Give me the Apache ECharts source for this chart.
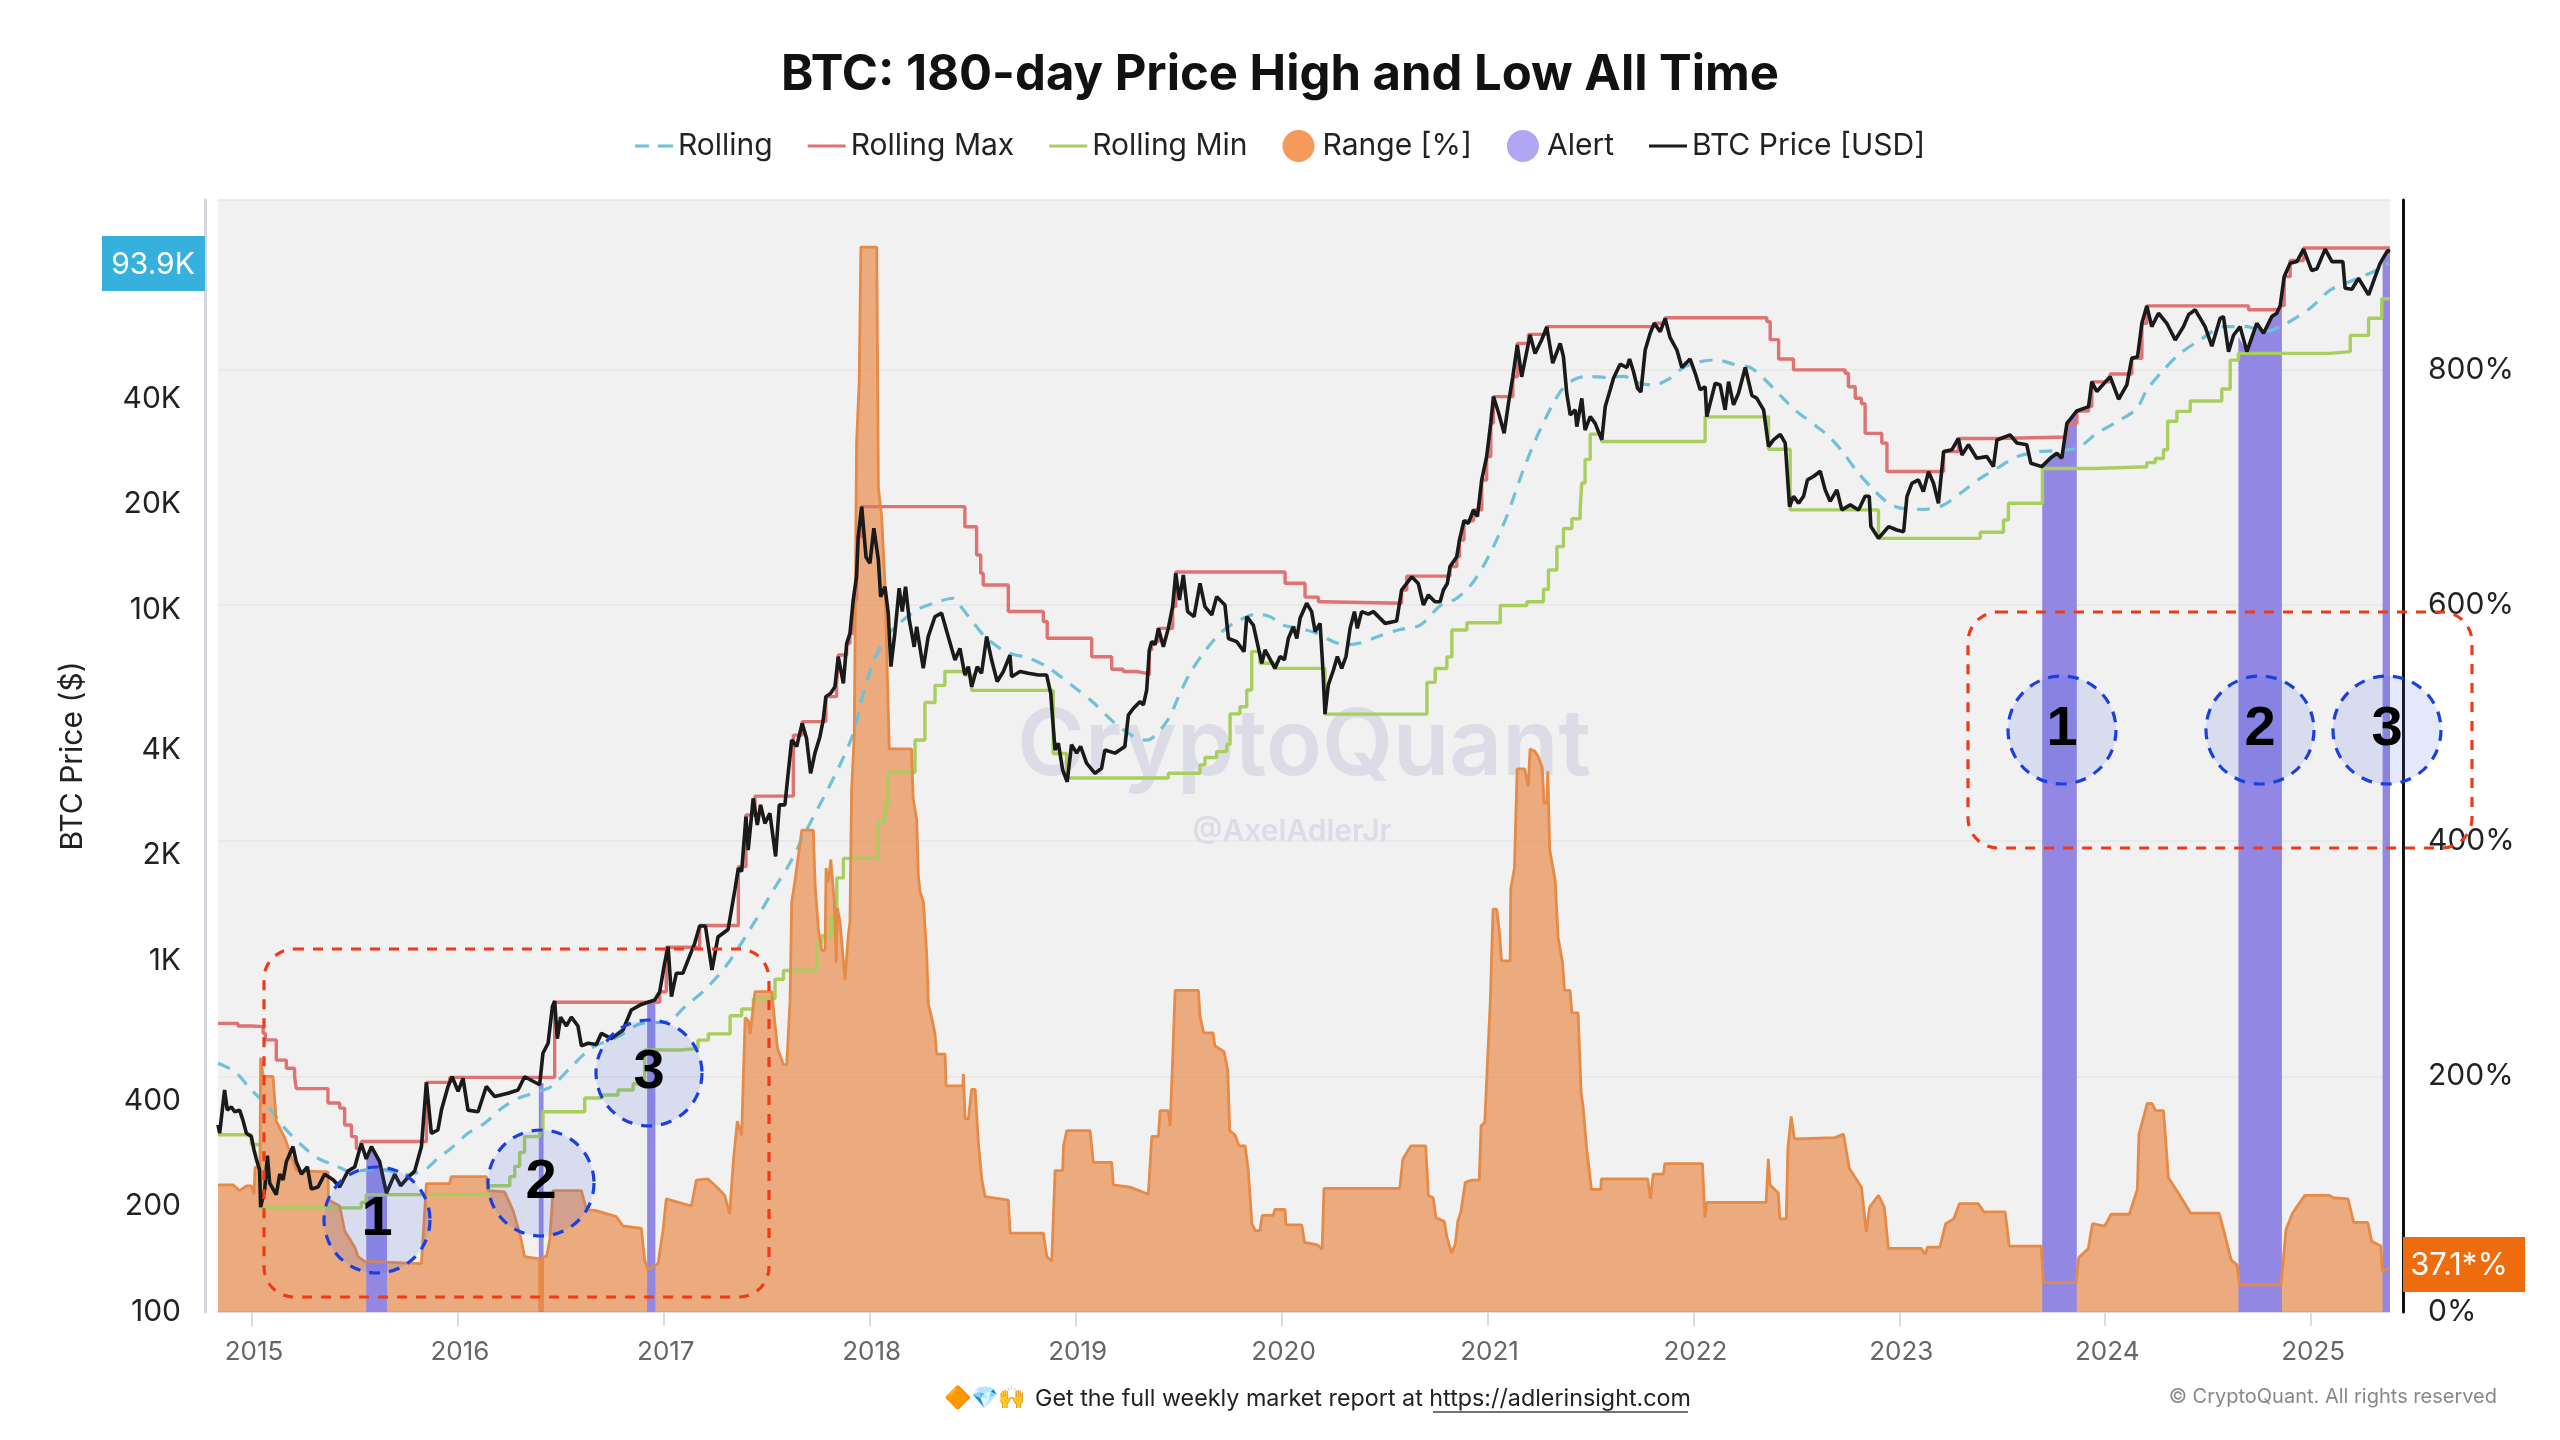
<!DOCTYPE html>
<html>
<head>
<meta charset="UTF-8">
<title>BTC: 180-day Price High and Low All Time</title>
<script src="https://cdn.jsdelivr.net/npm/echarts@6/dist/echarts.min.js"></script>
<style>
html, body { margin: 0; padding: 0; background: #fff; }
#container { width: 2560px; height: 1440px; }
</style>
</head>
<body>
<div id="container"></div>
<script>
// all series are [decimal year, value]
var price = [
[2014.835,341],[2014.843,323],[2014.867,429],[2014.880,376],[2014.900,384],[2014.916,372],[2014.940,376],[2014.956,352],[2014.973,323],[2014.997,316],
[2015.010,289],[2015.021,273],[2015.037,254],[2015.042,199],[2015.062,224],[2015.075,279],[2015.086,233],[2015.118,216],[2015.135,247],[2015.151,238],
[2015.167,268],[2015.199,296],[2015.215,268],[2015.240,247],[2015.269,259],[2015.288,224],[2015.321,227],[2015.353,247],[2015.394,238],[2015.426,227],
[2015.466,252],[2015.499,259],[2015.531,302],[2015.555,273],[2015.580,296],[2015.620,268],[2015.653,218],[2015.693,247],[2015.722,229],[2015.758,242],
[2015.790,252],[2015.823,296],[2015.847,451],[2015.871,323],[2015.903,330],[2015.920,376],[2015.952,439],[2015.972,468],[2016.001,425],[2016.025,463],
[2016.049,376],[2016.098,372],[2016.138,439],[2016.179,411],[2016.243,420],[2016.292,429],[2016.324,468],[2016.397,444],[2016.413,546],[2016.438,583],
[2016.459,741],[2016.470,769],[2016.483,601],[2016.499,692],[2016.527,653],[2016.551,692],[2016.583,653],[2016.600,573],[2016.632,583],[2016.672,578],
[2016.697,622],[2016.745,601],[2016.802,636],[2016.842,725],[2016.891,752],[2016.956,774],[2016.980,817],[2017.004,986],[2017.021,1098],[2017.037,792],
[2017.061,923],[2017.093,923],[2017.118,1007],[2017.150,1123],[2017.174,1258],[2017.202,1258],[2017.234,943],[2017.263,1170],[2017.312,1229],[2017.345,1593],
[2017.362,1837],[2017.378,1800],[2017.399,2577],[2017.410,2071],[2017.434,2907],[2017.454,2440],[2017.470,2784],[2017.491,2466],[2017.515,2634],[2017.543,1985],
[2017.561,2784],[2017.588,2784],[2017.604,3425],[2017.621,4263],[2017.645,4085],[2017.672,4753],[2017.693,4310],[2017.713,3425],[2017.734,3910],[2017.758,4356],
[2017.774,4853],[2017.787,5665],[2017.810,5787],[2017.831,6045],[2017.847,7360],[2017.872,6180],[2017.888,8020],[2017.904,8580],[2017.920,10680],[2017.936,12450],
[2017.944,16170],[2017.961,19700],[2017.982,14160],[2018.001,13580],[2018.020,17090],[2018.042,13880],[2018.053,10900],[2018.074,11650],[2018.090,9790],[2018.103,6895],
[2018.122,8580],[2018.143,11530],[2018.158,9900],[2018.174,11650],[2018.192,9370],[2018.216,7850],[2018.228,8960],[2018.260,6820],[2018.284,8400],[2018.317,9580],
[2018.349,9790],[2018.381,8400],[2018.414,7200],[2018.438,7770],[2018.462,6530],[2018.479,6895],[2018.495,6045],[2018.522,6895],[2018.543,6600],[2018.568,8400],
[2018.592,7200],[2018.619,6255],[2018.649,6680],[2018.681,7440],[2018.689,6455],[2018.730,6680],[2018.770,6600],[2018.819,6530],[2018.859,6530],[2018.879,5787],
[2018.900,3990],[2018.916,4170],[2018.937,3500],[2018.959,3240],[2018.980,4130],[2019.005,3910],[2019.024,4085],[2019.053,3660],[2019.094,3425],[2019.126,3540],
[2019.142,3990],[2019.191,3910],[2019.239,4085],[2019.256,5015],[2019.280,5240],[2019.312,5480],[2019.329,5363],[2019.345,5915],[2019.358,7695],[2019.369,8125],
[2019.386,7960],[2019.402,8865],[2019.426,7860],[2019.450,8865],[2019.471,10220],[2019.486,12720],[2019.504,10680],[2019.523,12585],[2019.544,9894],[2019.575,9575],
[2019.604,11915],[2019.628,10220],[2019.661,9680],[2019.685,10915],[2019.725,10330],[2019.742,8295],[2019.782,8125],[2019.818,7610],[2019.831,9575],[2019.863,9050],
[2019.904,7050],[2019.920,7695],[2019.968,6820],[2019.993,7370],[2020.014,7210],[2020.033,8295],[2020.057,8960],[2020.074,8295],[2020.090,9470],[2020.122,10450],
[2020.146,9894],[2020.163,8675],[2020.187,9160],[2020.200,6895],[2020.211,5050],[2020.227,6120],[2020.252,6745],[2020.271,7370],[2020.292,6820],[2020.313,7370],
[2020.333,8865],[2020.354,9894],[2020.368,8865],[2020.389,9894],[2020.422,9730],[2020.446,9894],[2020.503,9160],[2020.559,9300],[2020.583,11400],[2020.632,12430],
[2020.664,11900],[2020.689,10330],[2020.713,11040],[2020.745,10560],[2020.770,10560],[2020.786,11400],[2020.805,11900],[2020.818,13290],[2020.851,14190],[2020.864,15820],
[2020.886,17960],[2020.907,17650],[2020.932,19280],[2020.951,18450],[2020.972,23465],[2020.996,27345],[2021.016,34090],[2021.029,40530],[2021.053,36580],[2021.081,31870],
[2021.102,38800],[2021.123,46160],[2021.145,56880],[2021.166,46160],[2021.207,60750],[2021.231,53800],[2021.263,58770],[2021.288,64000],[2021.317,50470],[2021.353,57500],
[2021.369,52700],[2021.385,41430],[2021.402,35930],[2021.426,37170],[2021.434,33290],[2021.458,40090],[2021.474,32570],[2021.499,35540],[2021.523,34000],[2021.555,30530],
[2021.572,37980],[2021.596,42400],[2021.612,45720],[2021.644,50150],[2021.677,49060],[2021.690,51860],[2021.709,47800],[2021.729,42800],[2021.745,41800],[2021.766,55040],
[2021.790,61400],[2021.810,65580],[2021.839,62100],[2021.863,67700],[2021.887,59650],[2021.920,55040],[2021.944,49060],[2021.984,51860],[2022.009,47240],[2022.033,42400],
[2022.057,43250],[2022.065,35540],[2022.106,44240],[2022.130,43740],[2022.154,37170],[2022.171,44720],[2022.195,38400],[2022.219,41430],[2022.252,49060],[2022.284,40860],
[2022.308,40090],[2022.341,37170],[2022.365,29200],[2022.389,30530],[2022.422,31650],[2022.446,29880],[2022.467,19700],[2022.486,21080],[2022.511,20150],[2022.535,21080],
[2022.554,23470],[2022.583,24000],[2022.616,24850],[2022.640,21990],[2022.664,20400],[2022.697,21990],[2022.721,19280],[2022.762,19930],[2022.802,19280],[2022.834,21080],
[2022.854,21080],[2022.862,17280],[2022.899,16010],[2022.948,17280],[2022.988,16900],[2023.021,16720],[2023.037,21040],[2023.061,22960],[2023.093,23470],[2023.117,21730],
[2023.142,24790],[2023.166,22960],[2023.190,20130],[2023.215,28260],[2023.255,28590],[2023.287,30800],[2023.304,27650],[2023.336,29560],[2023.376,27050],[2023.425,27350],
[2023.457,25610],[2023.474,30500],[2023.538,31540],[2023.571,29900],[2023.619,29560],[2023.639,26180],[2023.692,25610],[2023.733,27050],[2023.765,27950],[2023.789,27050],
[2023.814,34030],[2023.862,36890],[2023.919,37960],[2023.935,44670],[2023.959,41930],[2024.024,46220],[2024.065,39850],[2024.105,43770],[2024.129,52130],[2024.157,52680],
[2024.178,65580],[2024.202,73500],[2024.226,64170],[2024.259,70040],[2024.299,65580],[2024.340,58800],[2024.380,64170],[2024.405,69400],[2024.437,71650],[2024.485,64170],
[2024.518,56430],[2024.558,67780],[2024.574,68520],[2024.599,54450],[2024.623,60640],[2024.655,64170],[2024.688,54450],[2024.736,65580],[2024.769,61420],[2024.809,68520],
[2024.833,70040],[2024.850,73700],[2024.869,89060],[2024.898,97190],[2024.931,98310],[2024.963,106700],[2025.003,92700],[2025.028,93800],[2025.068,106700],[2025.101,98310],
[2025.154,98310],[2025.165,82500],[2025.198,82000],[2025.230,88120],[2025.279,79000],[2025.311,89060],[2025.335,97190],[2025.371,105700],[2025.383,105000]
];

var rolling = [
[2014.835,511],[2014.916,484],[2014.997,429],[2015.078,385],[2015.159,334],[2015.240,299],[2015.321,274],[2015.402,262],[2015.483,251],[2015.564,254],
[2015.644,254],[2015.742,246],[2015.839,254],[2015.903,274],[2015.968,293],[2016.049,323],[2016.130,345],[2016.211,380],[2016.292,406],[2016.389,424],
[2016.454,439],[2016.551,500],[2016.648,564],[2016.778,609],[2016.891,664],[2017.021,672],[2017.102,741],[2017.199,827],[2017.312,985],[2017.451,1323],
[2017.532,1593],[2017.612,1898],[2017.693,2361],[2017.774,2907],[2017.855,3617],[2017.920,4453],[2017.969,5787],[2018.017,7100],[2018.082,8400],[2018.147,9200],
[2018.228,10000],[2018.309,10450],[2018.406,10800],[2018.438,10300],[2018.503,9200],[2018.568,8300],[2018.665,7590],[2018.778,7270],[2018.859,6900],[2018.989,6050],
[2019.086,5450],[2019.183,4800],[2019.296,4310],[2019.345,4260],[2019.442,4808],[2019.507,5790],[2019.555,6600],[2019.620,7525],[2019.701,8580],[2019.782,9263],
[2019.879,9740],[2019.944,9575],[2020.009,9050],[2020.090,8865],[2020.171,8580],[2020.252,8125],[2020.316,7960],[2020.381,8050],[2020.478,8450],[2020.575,8800],
[2020.673,9050],[2020.770,10280],[2020.851,10800],[2020.932,12040],[2021.013,14500],[2021.093,18440],[2021.174,25060],[2021.255,32570],[2021.353,41800],[2021.418,45220],
[2021.483,46300],[2021.580,46000],[2021.661,46300],[2021.742,44240],[2021.806,43740],[2021.887,45720],[2021.952,49060],[2022.033,51000],[2022.114,51600],[2022.195,50150],
[2022.276,49060],[2022.341,45720],[2022.422,40860],[2022.503,36740],[2022.600,33290],[2022.664,31000],[2022.729,28000],[2022.794,24850],[2022.875,22000],[2022.956,20000],
[2023.037,19400],[2023.117,19360],[2023.215,19910],[2023.296,21500],[2023.393,23720],[2023.474,25320],[2023.571,27340],[2023.684,28260],[2023.862,28890],[2023.959,31870],
[2024.073,34780],[2024.154,37530],[2024.202,42350],[2024.283,48280],[2024.364,53850],[2024.461,58780],[2024.574,64150],[2024.688,64150],[2024.769,62080],[2024.866,64900],
[2024.995,72350],[2025.093,81600],[2025.206,87150],[2025.303,92000],[2025.376,97190]
];

// step lines: the year each new level starts
var rollingMax = [
[2014.835,664],[2014.932,653],[2014.997,650],[2015.054,622],[2015.065,596],[2015.118,522],[2015.167,495],[2015.207,468],[2015.215,433],[2015.369,394],
[2015.426,381],[2015.450,341],[2015.483,316],[2015.507,292],[2015.531,306],[2015.847,451],[2015.960,466],[2016.470,763],[2016.980,817],[2017.012,1094],
[2017.174,1262],[2017.362,1857],[2017.399,2606],[2017.443,2950],[2017.629,4400],[2017.672,4807],[2017.787,5665],[2017.839,6120],[2017.847,7440],[2017.888,8020],
[2017.904,8580],[2017.920,10680],[2017.936,12450],[2017.944,16170],[2017.961,19700],[2018.462,17270],[2018.519,14347],[2018.539,12720],[2018.551,11780],[2018.673,9900],
[2018.843,9270],[2018.862,8305],[2019.078,7360],[2019.175,6780],[2019.231,6680],[2019.296,6600],[2019.345,6530],[2019.358,7695],[2019.369,8125],[2019.402,8865],
[2019.471,10220],[2019.486,12830],[2020.017,11915],[2020.114,10880],[2020.179,10560],[2020.195,10450],[2020.583,11400],[2020.608,12490],[2020.818,13290],[2020.851,14190],
[2020.864,15820],[2020.886,17960],[2020.932,19280],[2020.972,23465],[2020.996,27345],[2021.016,34090],[2021.029,40530],[2021.123,46160],[2021.145,57500],[2021.199,61000],
[2021.288,64150],[2021.810,65580],[2021.863,68000],[2022.357,66300],[2022.373,58900],[2022.414,51860],[2022.486,48300],[2022.737,47240],[2022.753,43250],[2022.786,40090],
[2022.816,38700],[2022.834,31860],[2022.915,29880],[2022.940,24800],[2023.215,28260],[2023.287,30800],[2023.474,31100],[2023.814,34030],[2023.862,36890],[2023.919,37960],
[2023.935,44670],[2024.024,47000],[2024.129,52130],[2024.178,65580],[2024.202,73500],[2024.696,71650],[2024.850,73700],[2024.869,89060],[2024.898,99000],[2024.963,107500],
[2025.383,107500]
];

var rollingMin = [
[2014.835,320],[2014.997,300],[2015.042,198],[2015.531,205],[2015.555,216],[2016.146,229],[2016.252,243],[2016.276,260],[2016.300,285],[2016.324,316],
[2016.397,330],[2016.413,372],[2016.616,407],[2016.697,415],[2016.778,429],[2016.851,447],[2016.907,558],[2017.085,563],[2017.166,595],[2017.216,620],
[2017.322,698],[2017.378,730],[2017.435,780],[2017.540,887],[2017.581,940],[2017.743,1123],[2017.767,1180],[2017.815,1340],[2017.840,1725],[2017.872,1960],
[2018.042,2500],[2018.074,2800],[2018.090,3450],[2018.220,4260],[2018.268,5450],[2018.317,6100],[2018.365,6680],[2018.462,6530],[2018.495,5900],[2018.891,3900],
[2018.956,3320],[2019.450,3425],[2019.604,3620],[2019.628,3800],[2019.685,3950],[2019.734,4140],[2019.750,5060],[2019.798,5300],[2019.831,5915],[2019.855,7610],
[2019.895,7050],[2019.968,6820],[2020.211,5050],[2020.706,6220],[2020.746,6810],[2020.803,7350],[2020.827,8770],[2020.900,9200],[2021.062,10300],[2021.191,10550],
[2021.272,11460],[2021.296,13000],[2021.337,15150],[2021.369,17060],[2021.410,18200],[2021.450,19280],[2021.458,23000],[2021.474,26850],[2021.499,31700],[2021.555,30200],
[2022.057,35500],[2022.365,28700],[2022.470,19280],[2022.899,16000],[2023.393,16660],[2023.506,18050],[2023.530,20140],[2023.695,25300],[2023.943,25600],[2024.202,26300],
[2024.243,27000],[2024.283,28600],[2024.303,34500],[2024.348,36800],[2024.413,39400],[2024.566,42600],[2024.607,51500],[2024.647,53850],[2025.093,54450],[2025.190,60600],
[2025.279,67800],[2025.343,77000],[2025.383,77000]
];

var range = [
[2014.835,108],[2014.908,108],[2014.940,103],[2014.973,107],[2014.997,107],[2015.010,100],[2015.015,123],[2015.039,122],[2015.042,216],[2015.054,200],
[2015.102,200],[2015.118,162],[2015.159,148],[2015.215,120],[2015.369,119],[2015.372,95],[2015.426,90],[2015.450,69],[2015.499,55],[2015.515,47],
[2015.547,43],[2015.823,41],[2015.847,109],[2015.960,109],[2015.968,115],[2016.138,115],[2016.146,103],[2016.227,102],[2016.268,86],[2016.300,67],
[2016.324,47],[2016.397,45],[2016.398,2],[2016.411,2],[2016.412,47],[2016.430,47],[2016.446,61],[2016.462,103],[2016.600,103],[2016.624,87],[2016.672,86],
[2016.769,81],[2016.802,73],[2016.891,71],[2016.907,44],[2016.923,36],[2016.972,41],[2016.996,69],[2017.012,96],[2017.093,92],[2017.134,90],
[2017.158,112],[2017.215,113],[2017.263,105],[2017.296,99],[2017.320,83],[2017.338,129],[2017.357,162],[2017.378,150],[2017.395,250],[2017.411,247],
[2017.419,236],[2017.443,272],[2017.524,272],[2017.535,253],[2017.552,224],[2017.581,210],[2017.597,210],[2017.613,264],[2017.621,348],[2017.637,366],
[2017.670,409],[2017.726,409],[2017.735,362],[2017.751,324],[2017.767,307],[2017.783,307],[2017.788,377],[2017.799,365],[2017.811,384],[2017.828,348],
[2017.837,296],[2017.843,343],[2017.856,331],[2017.880,282],[2017.896,320],[2017.904,331],[2017.912,443],[2017.925,490],[2017.936,737],[2017.949,790],
[2017.957,904],[2018.034,904],[2018.042,700],[2018.058,675],[2018.074,619],[2018.095,478],[2018.203,478],[2018.211,436],[2018.228,418],[2018.236,371],
[2018.244,357],[2018.261,348],[2018.277,303],[2018.285,261],[2018.301,250],[2018.317,236],[2018.325,219],[2018.366,219],[2018.371,192],[2018.452,192],
[2018.455,202],[2018.463,164],[2018.479,164],[2018.495,189],[2018.512,189],[2018.528,143],[2018.544,113],[2018.560,98],[2018.673,95],[2018.682,67],
[2018.843,67],[2018.860,47],[2018.884,43],[2018.900,120],[2018.937,120],[2018.941,141],[2018.957,154],[2019.070,154],[2019.086,127],[2019.175,127],
[2019.183,108],[2019.264,106],[2019.353,100],[2019.370,149],[2019.402,149],[2019.410,171],[2019.450,171],[2019.459,158],[2019.472,219],[2019.483,273],
[2019.596,273],[2019.604,251],[2019.622,237],[2019.667,237],[2019.676,226],[2019.721,221],[2019.739,205],[2019.748,154],[2019.775,150],[2019.793,141],
[2019.823,141],[2019.838,121],[2019.856,75],[2019.873,69],[2019.895,69],[2019.906,82],[2019.960,82],[2019.967,87],[2020.017,87],[2020.021,74],
[2020.098,74],[2020.112,59],[2020.175,57],[2020.197,53],[2020.206,105],[2020.574,105],[2020.589,130],[2020.628,141],[2020.700,141],[2020.713,99],
[2020.736,97],[2020.750,80],[2020.790,77],[2020.804,63],[2020.826,50],[2020.844,58],[2020.856,77],[2020.871,85],[2020.892,110],[2020.925,112],
[2020.960,112],[2020.969,158],[2020.987,161],[2020.996,197],[2021.014,265],[2021.027,342],[2021.045,342],[2021.059,321],[2021.068,298],[2021.110,298],
[2021.113,359],[2021.131,377],[2021.144,461],[2021.181,461],[2021.198,446],[2021.207,478],[2021.230,476],[2021.248,471],[2021.266,462],[2021.275,432],
[2021.289,432],[2021.293,459],[2021.302,393],[2021.329,366],[2021.343,318],[2021.365,296],[2021.374,273],[2021.401,273],[2021.410,254],[2021.440,254],
[2021.455,186],[2021.464,175],[2021.481,140],[2021.505,104],[2021.550,104],[2021.553,113],[2021.778,113],[2021.792,96],[2021.805,117],[2021.855,117],
[2021.861,126],[2022.044,126],[2022.056,80],[2022.065,93],[2022.353,93],[2022.364,130],[2022.372,108],[2022.412,101],[2022.420,79],[2022.451,79],
[2022.459,139],[2022.475,166],[2022.491,147],[2022.689,148],[2022.729,151],[2022.757,122],[2022.816,106],[2022.840,68],[2022.856,89],[2022.899,99],
[2022.927,89],[2022.947,54],[2023.106,54],[2023.125,49],[2023.137,55],[2023.197,55],[2023.225,75],[2023.264,79],[2023.292,92],[2023.383,92],
[2023.411,85],[2023.514,85],[2023.534,56],[2023.689,56],[2023.700,25],[2023.859,25],[2023.871,46],[2023.918,54],[2023.938,75],[2023.998,73],
[2024.029,83],[2024.117,83],[2024.156,104],[2024.164,151],[2024.204,177],[2024.228,177],[2024.244,171],[2024.283,171],[2024.307,114],[2024.355,101],
[2024.414,84],[2024.553,84],[2024.573,71],[2024.612,44],[2024.640,40],[2024.652,23],[2024.854,23],[2024.878,70],[2024.910,84],[2024.969,99],
[2025.088,99],[2025.108,97],[2025.179,96],[2025.207,76],[2025.275,76],[2025.294,60],[2025.338,56],[2025.346,35],[2025.383,37]
];

// alert windows reach from the floor up to the price
var alert = [
[2015.555,273],[2015.580,296],[2015.620,268],[2015.656,222],[2015.70,null],
[2016.393,444],[2016.416,450],[2016.50,null],
[2016.919,765],[2016.959,774],[2017.10,null],
[2023.694,25610],[2023.733,27050],[2023.765,27950],[2023.789,27050],[2023.814,34030],[2023.862,36890],[2024.00,null],
[2024.647,60000],[2024.688,54450],[2024.736,65580],[2024.769,61420],[2024.809,68520],[2024.833,70040],[2024.858,75000],[2025.00,null],
[2025.347,97190],[2025.371,105700],[2025.383,105000]
];

var yearTicks = [2015, 2016, 2017, 2018, 2019, 2020, 2021, 2022, 2023, 2024, 2025];
var priceTicks = [100, 200, 400, 1000, 2000, 4000, 10000, 20000, 40000];
var xStart = 2014.835, xEnd = 2025.383;
var priceMax = 147240, rangeMax = 944;

var FONT = 'Inter, "Noto Sans", sans-serif';
// line-series legend icons, the library would add a dot to them otherwise
var ICON_LINE = 'path://M0 0h38v3H0z';
var ICON_DASH = 'path://M0 0h14v3H0zM23 0h15v3H23z';

function lineSeries(name, rows, color, extra) {
    return Object.assign({
        name: name, type: 'line', data: rows, yAxisIndex: 0,
        showSymbol: false, symbol: 'none', animation: false,
        lineStyle: { color: color, width: 3.4 }, itemStyle: { color: color }
    }, extra || {});
}
function overlayText(text, x, y, size, color, extra) {
    return {
        type: 'text', z: 100, silent: true,
        style: Object.assign({
            text: text, x: x, y: y, align: 'center', verticalAlign: 'middle',
            font: size + 'px ' + FONT, fill: color
        }, extra || {})
    };
}
function badge(x, y, r, label) {
    return [
        { type: 'circle', z: 90, silent: true, shape: { cx: x, cy: y, r: r },
          style: { fill: 'rgba(65,105,225,0.15)', stroke: '#1a3fe0', lineWidth: 3.2, lineDash: [11, 9] } },
        overlayText(label, x, y, 56, '#000', { font: 'bold 56px "Liberation Sans", sans-serif' })
    ];
}
function redBox(x, y, w, h) {
    return { type: 'rect', z: 91, silent: true, shape: { x: x, y: y, width: w, height: h, r: 30 },
        style: { fill: 'none', stroke: '#f03a17', lineWidth: 3.2, lineDash: [10, 9] } };
}

var dom = document.getElementById("container");
var myChart = echarts.init(dom, null, { renderer: 'canvas' });

var overlays = [
    // watermark sits under the series
    { type: 'text', z: 1, silent: true, style: { text: 'CryptoQuant', x: 1304, y: 747, align: 'center', verticalAlign: 'middle', font: '600 92px ' + FONT, fill: '#dcdce6' } },
    { type: 'text', z: 1, silent: true, style: { text: '@AxelAdlerJr', x: 1292, y: 832, align: 'center', verticalAlign: 'middle', font: '600 30px ' + FONT, fill: '#dcdce6' } },
    redBox(264, 949, 505, 348),
    redBox(1968, 612, 504, 236),
    { type: 'rect', z: 95, silent: true, shape: { x: 102, y: 236, width: 103, height: 55 }, style: { fill: '#36b1de' } },
    overlayText('93.9K', 153, 265, 30, '#fff'),
    { type: 'rect', z: 95, silent: true, shape: { x: 2403, y: 1237, width: 122, height: 55 }, style: { fill: '#ee6c0e' } },
    overlayText('37.1*%', 2459, 1266, 31, '#fff'),
    overlayText('\uD83D\uDD36\uD83D\uDC8E\uD83D\uDE4C', 985, 1399, 22, '#000', { font: '22px "Noto Color Emoji", ' + FONT }),
    overlayText('Get the full weekly market report at https://adlerinsight.com', 1035, 1399, 23.3, '#222', { align: 'left' }),
    { type: 'line', z: 95, silent: true, shape: { x1: 1433, y1: 1412, x2: 1688, y2: 1412 }, style: { stroke: '#444', lineWidth: 1.5 } },
    overlayText('\u00A9 CryptoQuant. All rights reserved', 2497, 1397, 20, '#888', { align: 'right' })
].concat(badge(377, 1220, 53, '1'), badge(541, 1183, 53, '2'), badge(649, 1073, 53, '3'),
          badge(2062, 730, 54, '1'), badge(2260, 730, 54, '2'), badge(2387, 730, 54, '3'));

var option = {
    animation: false,
    backgroundColor: '#fff',
    textStyle: { fontFamily: FONT },
    title: {
        text: 'BTC: 180-day Price High and Low All Time',
        left: 1275, textAlign: 'center', top: 46,
        textStyle: { fontFamily: FONT, fontSize: 49, fontWeight: 700, color: '#111' }
    },
    legend: {
        left: 'center', top: 125, itemWidth: 38, itemHeight: 32, itemGap: 35,
        textStyle: { fontFamily: FONT, fontSize: 30, color: '#222' },
        data: [
            { name: 'Rolling', icon: ICON_DASH, itemStyle: { color: '#6fc0d8' } },
            { name: 'Rolling Max', icon: ICON_LINE, itemStyle: { color: '#df7272' } },
            { name: 'Rolling Min', icon: ICON_LINE, itemStyle: { color: '#a8cf5d' } },
            { name: 'Range [%]', icon: 'circle', itemStyle: { color: '#f59a5a' } },
            { name: 'Alert', icon: 'circle', itemStyle: { color: '#b0a6f2' } },
            { name: 'BTC Price [USD]', icon: ICON_LINE, itemStyle: { color: '#1a1a1a' } }
        ]
    },
    grid: { left: 218, right: 170, top: 200, bottom: 128, show: true, backgroundColor: '#f1f1f1', borderWidth: 0 },
    xAxis: {
        type: 'value', min: xStart, max: xEnd, scale: true,
        axisLine: { lineStyle: { color: '#dcdce0', width: 2 } },
        axisTick: { show: true, length: 14, lineStyle: { color: '#dcdce0', width: 2 }, customValues: yearTicks },
        axisLabel: { fontFamily: FONT, fontSize: 26, color: '#666', margin: 27, padding: [0, 0, 0, 4], customValues: yearTicks,
                     formatter: function (v) { return String(v); } },
        splitLine: { show: false }
    },
    yAxis: [{
        type: 'log', min: 100, max: priceMax, position: 'left', offset: 13,
        name: 'BTC Price ($)', nameLocation: 'middle', nameGap: 117, nameRotate: 90,
        nameTextStyle: { fontFamily: FONT, fontSize: 30, color: '#222' },
        axisLine: { show: true, lineStyle: { color: '#d5d5dc', width: 3 } },
        axisTick: { show: false },
        axisLabel: { fontFamily: FONT, fontSize: 30, color: '#222', margin: 24, customValues: priceTicks,
                     formatter: function (v) { return v >= 1000 ? (v / 1000) + 'K' : String(v); } },
        splitLine: { show: false }
    }, {
        type: 'value', min: 0, max: rangeMax, interval: 200, position: 'right', offset: 13,
        axisLine: { show: true, lineStyle: { color: '#111', width: 3 } },
        axisTick: { show: false },
        axisLabel: { fontFamily: FONT, fontSize: 30, color: '#222', margin: 25, showMaxLabel: false,
                     formatter: '{value}%' },
        splitLine: { show: true, lineStyle: { color: '#e6e6e6', width: 1.5 } }
    }],
    series: [
        lineSeries('Rolling', rolling, '#6fc0d8', { smooth: 0.3, lineStyle: { color: '#6fc0d8', width: 3.2, type: [13, 10] } }),
        lineSeries('Rolling Max', rollingMax, '#df7272', { step: 'end' }),
        lineSeries('Rolling Min', rollingMin, '#a8cf5d', { step: 'end' }),
        lineSeries('Range [%]', range, '#e68a48', {
            yAxisIndex: 1,
            lineStyle: { color: '#e68a48', width: 2.8 },
            areaStyle: { color: 'rgb(231,127,56)', opacity: 0.62 }
        }),
        lineSeries('Alert', alert, '#9187e3', {
            connectNulls: false,
            lineStyle: { width: 0 },
            areaStyle: { color: '#9187e3', opacity: 0.99, origin: 'start' }
        }),
        lineSeries('BTC Price [USD]', price, '#1a1a1a', { sampling: 'none', lineStyle: { color: '#1a1a1a', width: 3.6 } })
    ],
    graphic: { elements: overlays }
};

if (option && typeof option === "object") {
    myChart.setOption(option, true);
}
</script>
</body>
</html>
